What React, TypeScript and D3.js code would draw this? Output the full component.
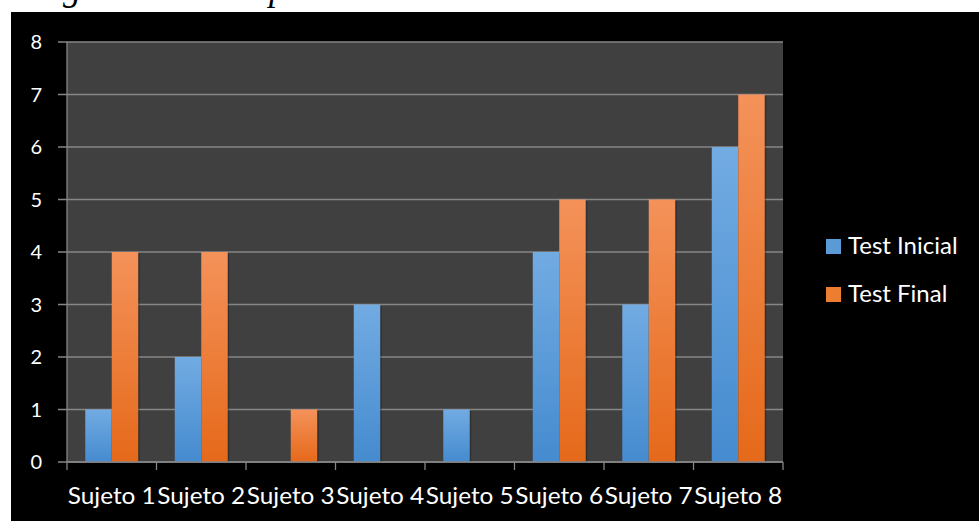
import React from "react";
import * as d3 from "d3";

const categories = ["Sujeto 1", "Sujeto 2", "Sujeto 3", "Sujeto 4", "Sujeto 5", "Sujeto 6", "Sujeto 7", "Sujeto 8"];
const testInicial = [1, 2, 0, 3, 1, 4, 3, 6];
const testFinal = [4, 4, 1, 0, 0, 5, 5, 7];
const seriesNames = ["Test Inicial", "Test Final"];
const yTicks = [0, 1, 2, 3, 4, 5, 6, 7, 8];
const titleText = "Diagrama de comparación Test – Test Inicial";

export default function App() {
  const W = 979, H = 521;
  const left = 67, right = 783, top = 42, bottom = 462;
  const x = d3.scaleBand<string>().domain(categories).range([left, right]).paddingInner(0).paddingOuter(0);
  const inner = d3.scaleBand<string>().domain(seriesNames).range([0, x.bandwidth()]).paddingInner(0).paddingOuter(0.69);
  const y = d3.scaleLinear().domain([0, 8]).range([bottom, top]);
  const series = [testInicial, testFinal];
  const fills = ["url(#gBlue)", "url(#gOrange)"];
  const font = "Lato, 'Open Sans', sans-serif";

  return (
    <svg width={W} height={H} style={{ position: "absolute", left: 0, top: 0 }}>
      <defs>
        <linearGradient id="gBlue" x1="0" y1="0" x2="0" y2="1">
          <stop offset="0%" stopColor="#72abe2" />
          <stop offset="100%" stopColor="#458bcf" />
        </linearGradient>
        <linearGradient id="gOrange" x1="0" y1="0" x2="0" y2="1">
          <stop offset="0%" stopColor="#f4925a" />
          <stop offset="100%" stopColor="#e5691a" />
        </linearGradient>
      </defs>
      <rect x={0} y={0} width={W} height={H} fill="#ffffff" />
      <text x={9} y={0} fontFamily="'Liberation Serif', serif" fontStyle="italic" fontSize={36} fill="#000">{titleText}</text>
      <rect x={11} y={12} width={W - 11} height={H - 12} fill="#000000" />
      <rect x={left} y={top} width={right - left} height={bottom - top} fill="#404040" />
      {yTicks.map(t => (
        <g key={t}>
          <line x1={left - 9} x2={right} y1={y(t)} y2={y(t)} stroke="#868686" strokeWidth={1.3} />
          <text x={42} y={y(t) + 7} textAnchor="end" fill="#ffffff" fontFamily={font} fontSize={20}>{t}</text>
        </g>
      ))}
      <line x1={left} x2={left} y1={top} y2={bottom} stroke="#868686" strokeWidth={1.3} />
      {series.map((vals, si) =>
        vals.map((v, i) => {
          const bx = (x(categories[i]) as number) + (inner(seriesNames[si]) as number);
          const bw = inner.bandwidth();
          if (v <= 0) return null;
          return (
            <g key={si + "-" + i}>
              <rect x={bx + 1.5} y={y(v) + 1.5} width={bw} height={y(0) - y(v) - 1.5} fill="#000" opacity={0.25} />
              <rect x={bx} y={y(v)} width={bw} height={y(0) - y(v)} fill={fills[si]} />
            </g>
          );
        })
      )}
      <line x1={left} x2={right} y1={bottom} y2={bottom} stroke="#868686" strokeWidth={1.3} />
      {categories.map((c, i) => (
        <line key={"t" + i} x1={x(c) as number} x2={x(c) as number} y1={bottom} y2={bottom + 8} stroke="#868686" strokeWidth={1.3} />
      ))}
      <line x1={right} x2={right} y1={bottom} y2={bottom + 8} stroke="#868686" strokeWidth={1.3} />
      {categories.map(c => (
        <text key={c} x={(x(c) as number) + x.bandwidth() / 2} y={504} textAnchor="middle" fill="#ffffff" fontFamily={font} fontSize={23} textLength={88} lengthAdjust="spacingAndGlyphs">{c}</text>
      ))}
      {seriesNames.map((s, i) => (
        <g key={s}>
          <rect x={826} y={239 + i * 48} width={15} height={15} fill={i === 0 ? "#5b9bd5" : "#ed7d31"} />
          <text x={848} y={254 + i * 48} fill="#ffffff" fontFamily={font} fontSize={24}>{s}</text>
        </g>
      ))}
    </svg>
  );
}
